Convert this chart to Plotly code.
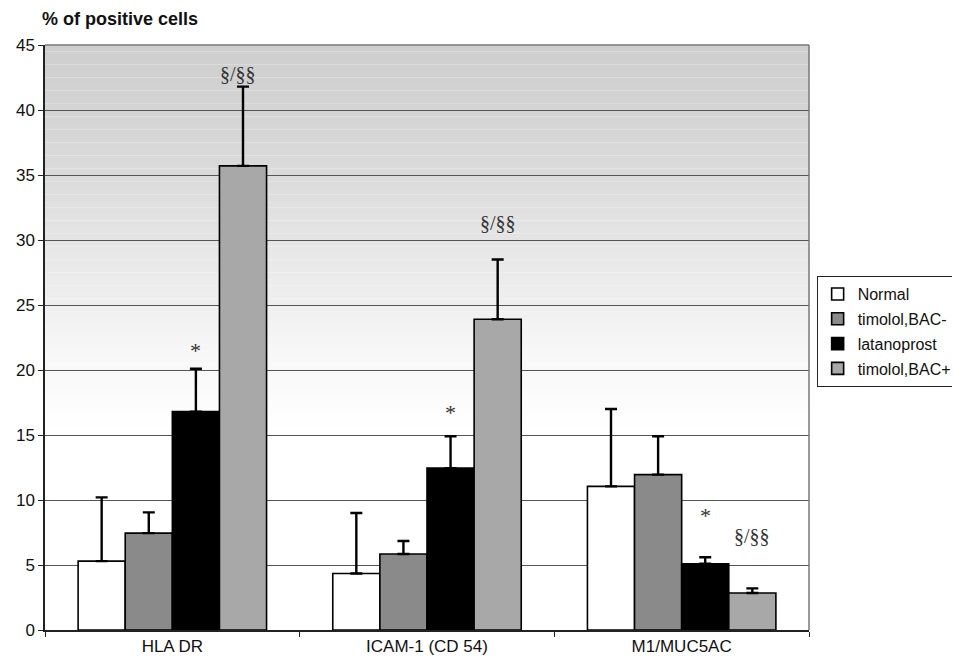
import plotly.graph_objects as go

categories = ["HLA DR", "ICAM-1 (CD 54)", "M1/MUC5AC"]
series_names = ["Normal", "timolol,BAC-", "latanoprost", "timolol,BAC+"]

normal_vals = [5.3, 4.35, 11.05]
normal_err_top = [10.2, 9.0, 17.0]
bacminus_vals = [7.45, 5.85, 11.95]
bacminus_err_top = [9.05, 6.85, 14.9]
latano_vals = [16.8, 12.45, 5.1]
latano_err_top = [20.1, 14.9, 5.6]
bacplus_vals = [35.7, 23.9, 2.85]
bacplus_err_top = [41.8, 28.5, 3.2]

star_y = [21.5, 16.7, 8.8]
sect_y = [42.8, 31.3, 7.2]

y_ticks = [0, 5, 10, 15, 20, 25, 30, 35, 40, 45]

values = [normal_vals, bacminus_vals, latano_vals, bacplus_vals]
err_tops = [normal_err_top, bacminus_err_top, latano_err_top, bacplus_err_top]
colors = ["#ffffff", "#8a8a8a", "#000000", "#a8a8a8"]

BARGAP = 0.26
FONT = "Liberation Sans, Arial, sans-serif"

fig = go.Figure()
for i, (name, vals, tops, col) in enumerate(zip(series_names, values, err_tops, colors)):
    fig.add_trace(go.Bar(
        x=categories, y=vals, name=name,
        marker=dict(color=col, line=dict(color="#000000", width=1.6)),
        error_y=dict(type="data", symmetric=False,
                     array=[t - v for t, v in zip(tops, vals)],
                     arrayminus=[0] * len(vals),
                     color="#000000", thickness=2.4, width=6),
        legendgroup=f"g{i}",
    ))

# bar offsets within group (category index units)
bw = (1 - BARGAP) / 4
offsets = [(-1.5 + k) * bw for k in range(4)]

annotations = []
for ci in range(len(categories)):
    annotations.append(dict(x=ci + offsets[2], y=star_y[ci], xref="x", yref="y",
                            text="*", showarrow=False,
                            font=dict(family="Liberation Serif, Times New Roman, serif", size=22, color="#333333")))
    annotations.append(dict(x=ci + offsets[3] - (0.02 if ci == 0 else 0), y=sect_y[ci], xref="x", yref="y",
                            text="§/§§", showarrow=False,
                            font=dict(family="Liberation Serif, Times New Roman, serif", size=20, color="#333333")))

annotations.append(dict(x=-0.007, y=1.045, xref="paper", yref="paper",
                        xanchor="left", yanchor="middle", showarrow=False,
                        text="<b>% of positive cells</b>",
                        font=dict(family=FONT, size=18, color="#111111")))

# gradient background bands (decoration)
shapes = []
def gray_at(v):
    stops = [(15, 255), (20, 249), (25, 240), (30, 229), (35, 219), (40, 212), (45, 206)]
    if v <= stops[0][0]:
        return 255
    for (a, ga), (b, gb) in zip(stops, stops[1:]):
        if a <= v <= b:
            return ga + (gb - ga) * (v - a) / (b - a)
    return stops[-1][1]

step = 0.5
v = 15.0
while v < 45:
    g = int(round(gray_at(v + step / 2)))
    shapes.append(dict(type="rect", xref="paper", yref="y", x0=0, x1=1, y0=v, y1=v + step,
                       fillcolor=f"rgb({g},{g},{g})", line=dict(width=0), layer="below"))
    v += step

# top/right border
shapes.append(dict(type="line", xref="paper", yref="paper", x0=0, x1=1, y0=1, y1=1,
                   line=dict(color="#777777", width=1.5)))
shapes.append(dict(type="line", xref="paper", yref="paper", x0=1, x1=1, y0=0, y1=1,
                   line=dict(color="#777777", width=1.5)))

fig.update_layout(
    width=952, height=657,
    margin=dict(l=37, r=151, t=37, b=35, autoexpand=False),
    paper_bgcolor="#ffffff", plot_bgcolor="#ffffff",
    barmode="group", bargap=BARGAP, bargroupgap=0,
    font=dict(family=FONT, color="#111111"),
    showlegend=True,
    legend=dict(x=1.01, y=0.605, xanchor="left", yanchor="top",
                bordercolor="#222222", borderwidth=1, bgcolor="#ffffff",
                font=dict(family=FONT, size=16, color="#111111"),
                tracegroupgap=1, itemclick=False),
    annotations=annotations,
    shapes=shapes,
)
fig.update_yaxes(range=[0, 45], tickvals=y_ticks, showgrid=True, gridcolor="#555555", gridwidth=1,
                 showline=True, linecolor="#222222", linewidth=1.5,
                 ticks="outside", ticklen=5, tickcolor="#222222",
                 tickfont=dict(family=FONT, size=17, color="#111111"), zeroline=False)
fig.update_xaxes(showline=True, linecolor="#222222", linewidth=1.5,
                 ticks="outside", tickson="boundaries", ticklen=5, tickcolor="#222222",
                 tickfont=dict(family=FONT, size=17, color="#111111"), showgrid=False)

fig.write_html("out.html")
